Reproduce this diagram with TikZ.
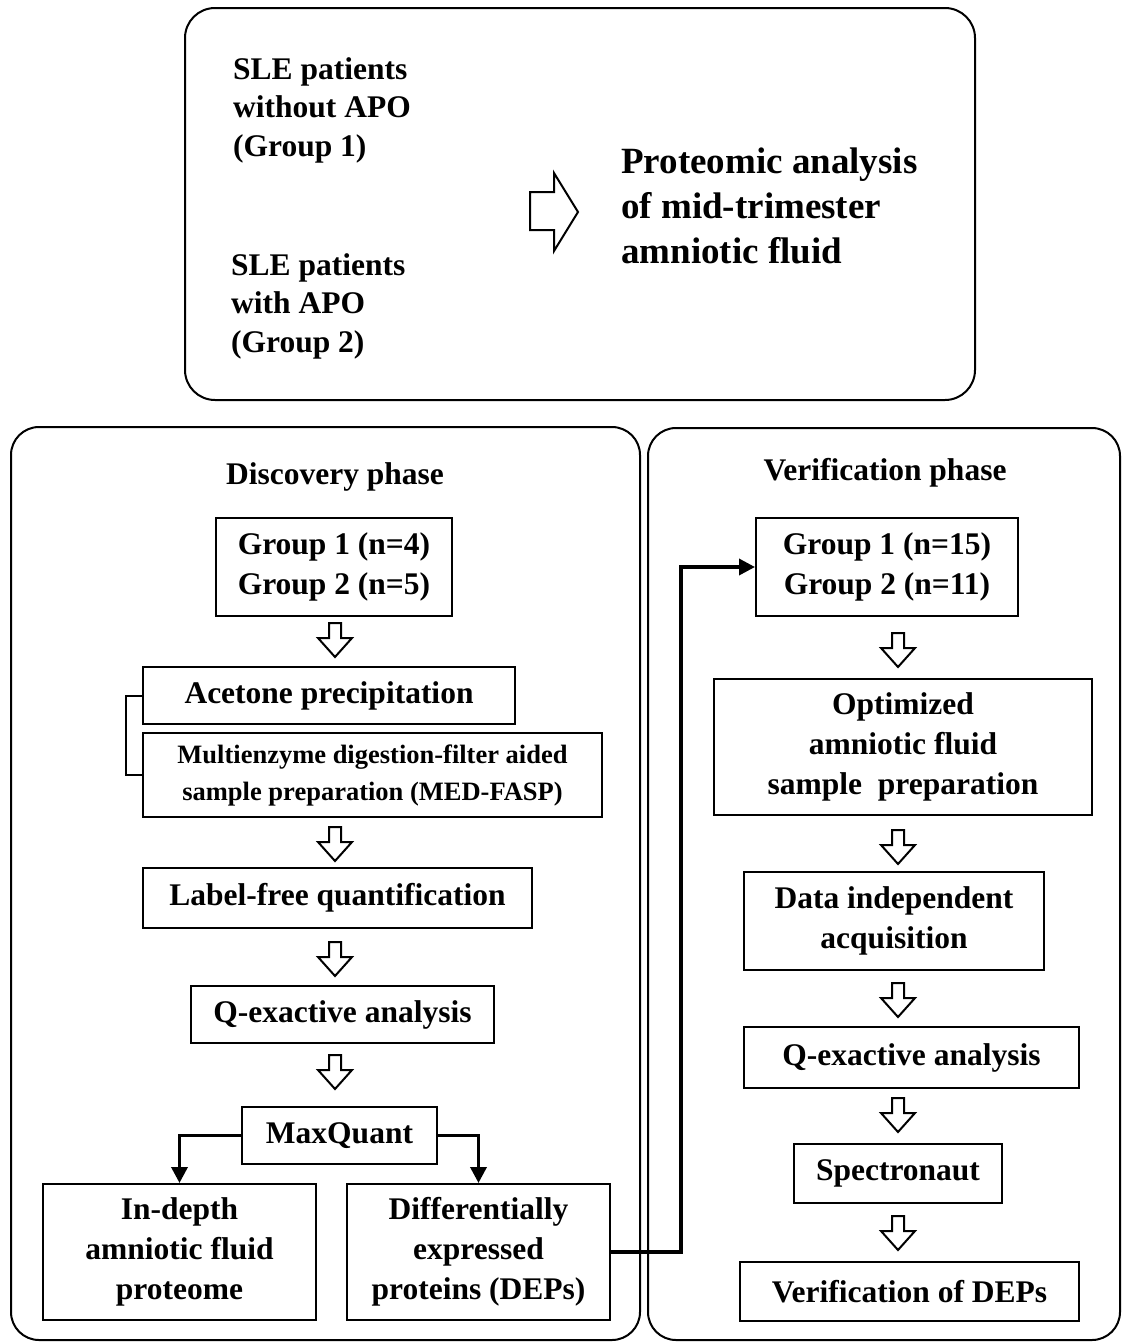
\documentclass[tikz,border=0pt]{standalone}
\usepackage{fontspec}
\setmainfont{Liberation Serif}
\usetikzlibrary{arrows.meta,positioning,calc}

\tikzset{
  panel/.style={draw,line width=2pt,rounded corners=28pt},
  stepbox/.style={draw,line width=2pt,align=center,inner sep=0pt,
    font=\bfseries\fontsize{31.5}{40}\selectfont},
  small step/.style={stepbox,font=\bfseries\fontsize{26.5}{37}\selectfont},
  title/.style={font=\bfseries\fontsize{31.5}{40}\selectfont},
  link/.style={line width=3.5pt,-{Triangle[length=16pt,width=16pt]}},
  hollow down/.pic={
    \draw[line width=2pt,line join=miter,fill=white]
      (-6,-17) -- (6,-17) -- (6,-2) -- (17,-2) -- (0,17) -- (-17,-2) -- (-6,-2) -- cycle;}
}

\begin{document}
\begin{tikzpicture}[x=1pt,y=-1pt]
  \useasboundingbox (0,0) rectangle (1124,1344);

  % top panel
  \draw[panel,rounded corners=30pt] (185,8) rectangle (975,400);
  \node[font=\bfseries\fontsize{31.5}{38.5}\selectfont,align=left,anchor=west,inner sep=0pt]
    (grp1) at (233,110) {SLE patients\\without APO\\(Group 1)};
  \node[font=\bfseries\fontsize{31.5}{38.5}\selectfont,align=left,anchor=west,inner sep=0pt]
    (grp2) at (231,306) {SLE patients\\with APO\\(Group 2)};
  \node[font=\bfseries\fontsize{37}{45}\selectfont,align=left,anchor=west,inner sep=0pt]
    (aim) at (621,206) {Proteomic analysis\\of mid-trimester\\amniotic fluid};
  \draw[line width=2pt,line join=miter]
    (530,192) -- (554,192) -- (554,173) -- (578,212) -- (554,251) -- (554,230) -- (530,230) -- cycle;

  % discovery phase
  \draw[panel] (11,427) rectangle (640,1340);
  \node[title] (disc) at (335,477) {Discovery phase};
  \node[stepbox,minimum width=236pt,minimum height=98pt] (dgroups) at (334,567)
    {Group 1 (n=4)\\Group 2 (n=5)};
  \node[stepbox,minimum width=372pt,minimum height=57pt] (acetone) at (329,695.5)
    {Acetone precipitation};
  \node[small step,minimum width=459pt,minimum height=84pt] (medfasp) at (372.5,775)
    {Multienzyme digestion-filter aided\\sample preparation (MED-FASP)};
  \node[stepbox,minimum width=389pt,minimum height=60pt] (lfq) at (337.5,898)
    {Label-free quantification};
  \node[stepbox,minimum width=303pt,minimum height=57pt] (dqexact) at (342.5,1014.5)
    {Q-exactive analysis};
  \node[stepbox,minimum width=195pt,minimum height=57pt] (maxquant) at (339.5,1135.5)
    {MaxQuant};
  \node[stepbox,minimum width=273pt,minimum height=136pt] (indepth) at (179.5,1252)
    {In-depth\\amniotic fluid\\proteome};
  \node[stepbox,minimum width=263pt,minimum height=136pt] (deps) at (478.5,1252)
    {Differentially\\expressed\\proteins (DEPs)};

  \pic at (335,640) {hollow down};
  \pic at (335,844) {hollow down};
  \pic at (335,959) {hollow down};
  \pic at (335,1072) {hollow down};

  \draw[line width=2pt] (acetone.west) -- ++(-16,0) |- (medfasp.west);
  \draw[link] (maxquant.west) -| (indepth.north);
  \draw[link] (maxquant.east) -| (deps.north);

  % verification phase
  \draw[panel] (648,428) rectangle (1120,1340);
  \node[title] (verif) at (885,473) {Verification phase};
  \node[stepbox,minimum width=262pt,minimum height=98pt] (vgroups) at (887,567)
    {Group 1 (n=15)\\Group 2 (n=11)};
  \node[stepbox,minimum width=378pt,minimum height=136pt] (prep) at (903,747)
    {Optimized\\amniotic fluid\\sample~~preparation};
  \node[stepbox,minimum width=300pt,minimum height=98pt] (dia) at (894,921)
    {Data independent\\acquisition};
  \node[stepbox,minimum width=335pt,minimum height=61pt] (vqexact) at (911.5,1057.5)
    {Q-exactive analysis};
  \node[stepbox,minimum width=208pt,minimum height=59pt] (spectro) at (898,1173.5)
    {Spectronaut};
  \node[stepbox,minimum width=339pt,minimum height=59pt] (vdeps) at (909.5,1291.5)
    {Verification of DEPs};

  \pic at (898,650) {hollow down};
  \pic at (898,847) {hollow down};
  \pic at (898,1000) {hollow down};
  \pic at (898,1115) {hollow down};
  \pic at (898,1233) {hollow down};

  \draw[link] (deps.east) -- (681,1252) |- (vgroups.west);
\end{tikzpicture}
\end{document}
